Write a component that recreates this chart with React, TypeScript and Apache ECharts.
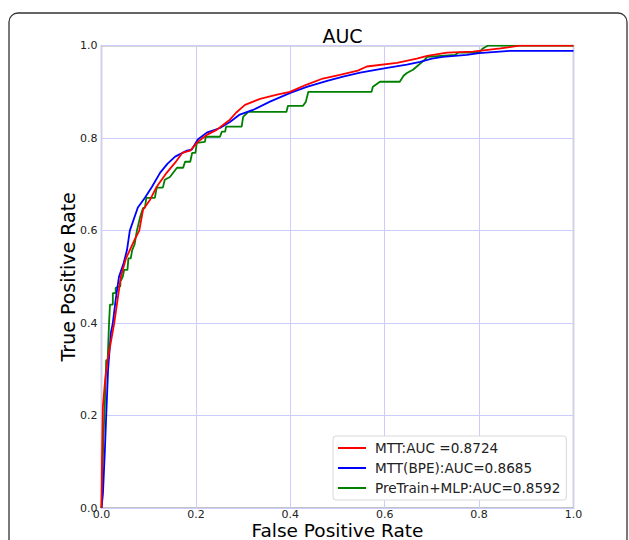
import React, { useEffect, useRef } from "react";
import * as echarts from "echarts";

const seriesNames = ["MTT:AUC =0.8724", "MTT(BPE):AUC=0.8685", "PreTrain+MLP:AUC=0.8592"];
const seriesColors = ["#ff0000", "#0000ff", "#008000"];
const xTicks = [0, 0.2, 0.4, 0.6, 0.8, 1.0];
const yTicks = [0, 0.2, 0.4, 0.6, 0.8, 1.0];

// MTT ROC points [FPR, TPR]
const mttRoc: number[][] = [
  [0, 0], [0.001, 0.1], [0.003, 0.22], [0.008, 0.28], [0.013, 0.32], [0.02, 0.36], [0.027, 0.4],
  [0.034, 0.45], [0.041, 0.5], [0.052, 0.54], [0.06, 0.558], [0.07, 0.58], [0.08, 0.6],
  [0.088, 0.645], [0.103, 0.667], [0.117, 0.695], [0.138, 0.725], [0.156, 0.747], [0.171, 0.768],
  [0.188, 0.773], [0.204, 0.792], [0.223, 0.807], [0.244, 0.818], [0.258, 0.829], [0.272, 0.84],
  [0.285, 0.855], [0.304, 0.872], [0.336, 0.885], [0.372, 0.894], [0.399, 0.9], [0.435, 0.916],
  [0.469, 0.929], [0.505, 0.937], [0.543, 0.946], [0.562, 0.955], [0.626, 0.963], [0.668, 0.972],
  [0.69, 0.978], [0.732, 0.985], [0.787, 0.987], [0.845, 0.994], [0.886, 1.0], [1, 1],
];

// MTT(BPE) ROC points
const bpeRoc: number[][] = [
  [0, 0], [0.003, 0.03], [0.007, 0.12], [0.01, 0.2], [0.014, 0.3], [0.02, 0.38], [0.024, 0.4],
  [0.03, 0.45], [0.037, 0.5], [0.047, 0.53], [0.054, 0.558], [0.06, 0.6], [0.077, 0.65],
  [0.092, 0.671], [0.107, 0.695], [0.124, 0.725], [0.14, 0.745], [0.156, 0.76], [0.181, 0.773],
  [0.191, 0.775], [0.204, 0.797], [0.223, 0.812], [0.251, 0.822], [0.272, 0.835], [0.293, 0.851],
  [0.321, 0.861], [0.357, 0.879], [0.4, 0.898], [0.435, 0.911], [0.478, 0.924], [0.512, 0.933],
  [0.548, 0.942], [0.605, 0.952], [0.647, 0.959], [0.675, 0.965], [0.7, 0.972], [0.723, 0.976],
  [0.774, 0.98], [0.8, 0.984], [0.865, 0.989], [1, 0.989],
];

// PreTrain+MLP ROC points
const mlpRoc: number[][] = [
  [0, 0], [0.004, 0.15], [0.008, 0.25], [0.01, 0.32], [0.013, 0.32], [0.016, 0.4], [0.018, 0.44],
  [0.024, 0.44], [0.024, 0.465], [0.03, 0.465], [0.03, 0.476], [0.04, 0.48], [0.04, 0.49],
  [0.045, 0.5], [0.048, 0.515], [0.055, 0.515], [0.057, 0.54], [0.062, 0.54], [0.065, 0.558],
  [0.07, 0.57], [0.075, 0.6], [0.082, 0.63], [0.088, 0.649], [0.092, 0.649], [0.095, 0.671],
  [0.113, 0.671], [0.117, 0.693], [0.13, 0.693], [0.134, 0.71], [0.145, 0.716], [0.16, 0.736],
  [0.173, 0.736], [0.177, 0.749], [0.188, 0.749], [0.192, 0.768], [0.199, 0.768], [0.202, 0.79],
  [0.219, 0.792], [0.221, 0.803], [0.251, 0.803], [0.255, 0.814], [0.262, 0.814], [0.264, 0.825],
  [0.297, 0.825], [0.3, 0.846], [0.311, 0.857], [0.392, 0.857], [0.395, 0.87], [0.427, 0.87],
  [0.433, 0.879], [0.438, 0.9], [0.572, 0.9], [0.575, 0.911], [0.59, 0.922], [0.632, 0.922],
  [0.64, 0.935], [0.647, 0.941], [0.66, 0.948], [0.668, 0.955], [0.685, 0.97], [0.69, 0.976],
  [0.749, 0.98], [0.756, 0.985], [0.8, 0.985], [0.808, 0.994], [0.818, 1.0], [1, 1],
];

const FONT = "DejaVu Sans";

export default function App() {
  const ref = useRef<HTMLDivElement>(null);
  useEffect(() => {
    if (!ref.current) return;
    const chart = echarts.init(ref.current, null, { renderer: "svg" });
    const datasets = [mttRoc, bpeRoc, mlpRoc];
    chart.setOption({
      animation: false,
      backgroundColor: "#ffffff",
      title: {
        text: "AUC",
        left: 337.5,
        textAlign: "center",
        top: 21,
        textStyle: { fontFamily: FONT, fontSize: 19, fontWeight: "normal", color: "#000" },
      },
      grid: {
        left: 101.5,
        right: 55.5,
        top: 45.7,
        bottom: 32,
        containLabel: false,
        outerBoundsMode: "none",
        show: true,
        borderColor: "#b0b0b0",
        borderWidth: 1.5,
        backgroundColor: "transparent",
      },
      xAxis: {
        type: "value",
        min: 0,
        max: 1,
        interval: 0.2,
        name: "False Positive Rate",
        nameLocation: "middle",
        nameGap: 13,
        nameMoveOverlap: false,
        nameTextStyle: { fontFamily: FONT, fontSize: 18.5, color: "#000", verticalAlign: "top", lineHeight: 18 },
        axisLine: { show: false },
        axisTick: { show: false },
        axisLabel: {
          margin: 0.5,
          fontFamily: FONT,
          fontSize: 11,
          lineHeight: 11,
          color: "#222",
          formatter: (v: number) => (xTicks.includes(v) ? v.toFixed(1) : ""),
        },
        splitLine: { show: true, lineStyle: { color: "#ccccff", width: 1 } },
      },
      yAxis: {
        type: "value",
        min: 0,
        max: 1,
        interval: 0.2,
        name: "True Positive Rate",
        nameLocation: "middle",
        nameGap: 24,
        nameMoveOverlap: false,
        nameTextStyle: { fontFamily: FONT, fontSize: 19, color: "#000" },
        axisLine: { show: false },
        axisTick: { show: false },
        axisLabel: {
          margin: 4,
          fontFamily: FONT,
          fontSize: 11,
          color: "#222",
          formatter: (v: number) => (yTicks.includes(v) ? v.toFixed(1) : ""),
        },
        splitLine: { show: true, lineStyle: { color: "#ccccff", width: 1 } },
      },
      legend: {
        orient: "vertical",
        left: 333,
        top: 436,
        backgroundColor: "#ffffff",
        borderColor: "#d9d9d9",
        borderWidth: 1,
        borderRadius: 3,
        padding: [5, 6, 5, 5],
        itemGap: 6,
        itemWidth: 28,
        itemHeight: 2,
        icon: "rect",
        textStyle: { fontFamily: FONT, fontSize: 13.6, color: "#222", padding: [0, 0, 0, 4] },
        data: seriesNames.map((n, i) => ({ name: n, itemStyle: { color: seriesColors[i] } })),
      },
      series: datasets.map((d, i) => ({
        name: seriesNames[i],
        type: "line",
        data: d,
        showSymbol: false,
        symbol: "none",
        lineStyle: { color: seriesColors[i], width: 1.8 },
        itemStyle: { color: seriesColors[i] },
        z: 3 - i,
      })),
      graphic: [
        {
          type: "rect",
          shape: { x: 9, y: 13, width: 618, height: 600, r: 9 },
          style: { fill: "none", stroke: "#333333", lineWidth: 1.3 },
          silent: true,
          z: 100,
        },
      ],
    });
    return () => chart.dispose();
  }, []);
  return (
    <div
      ref={ref}
      style={{ position: "fixed", left: 0, top: 0, width: 629, height: 540 }}
    />
  );
}
